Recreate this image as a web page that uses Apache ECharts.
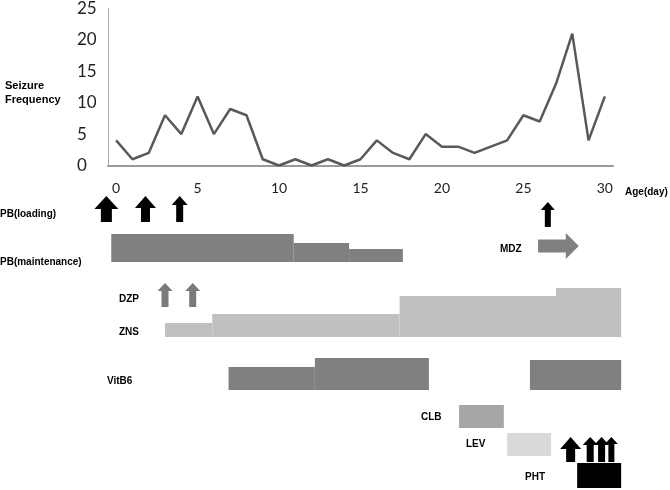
<!DOCTYPE html>
<html>
<head>
<meta charset="utf-8">
<script src="https://cdn.jsdelivr.net/npm/echarts@6/dist/echarts.min.js"></script>
<style>
html,body{margin:0;padding:0;background:#fff;}
#chart{width:670px;height:490px;}
</style>
</head>
<body>
<div id="chart"></div>
<script>
// age in days and seizures counted that day
var ageDays = ['0','1','2','3','4','5','6','7','8','9','10','11','12','13','14','15','16','17','18','19','20','21','22','23','24','25','26','27','28','29','30'];
var seizureCounts = [4,1,2,8,5,11,5,9,8,1,0,1,0,1,0,1,4,2,1,5,3,3,2,3,4,8,7,13,21,4,11];

// treatments: [start day, end day, dose level]
var pbMaintenance = [[-0.3,10.9,28],[10.9,14.3,19],[14.3,17.6,13]];
var zns = [[3.0,5.9,14],[5.9,17.4,23],[17.4,27.0,41],[27.0,31.0,49]];
var vitB6 = [[6.9,12.2,23],[12.2,19.2,32],[25.4,31.0,30]];
var clb = [[21.05,23.8,23]];
var lev = [[24.0,26.7,23]];
var pht = [[28.3,31.0,25]];
var mdzInfusion = [[25.9,28.4]];
// single doses: day given
var pbLoadingDays = [-0.6,1.8,3.9];
var dzpDays = [3.0,4.7];
var mdzBolusDays = [26.5];
var phtLoadingDays = [27.9,29.1,29.8,30.4];

// layout of the treatment tracks (track units, 0 = top of the lower panel)
var TRACK = {pbLoad:52, mdzBolus:57, mdzInf:76, pbMaint:92, dzp:137, zns:167, vitB6:220, clb:258, lev:286, pht:318, phtLoad:292};
var pbLoadHead = [24,21,16];
var phtLoadHead = [21,15,15,13];

var chart = echarts.init(document.getElementById('chart'));

function barItem(base, color){
	return function(params, api){
		var p0 = api.coord([api.value(0), base]);
		var p1 = api.coord([api.value(1), base - api.value(2)]);
		return {
			type:'rect',
			shape:{x:p0[0], y:p1[1], width:p1[0]-p0[0], height:p0[1]-p1[1]},
			style:{fill:color}
		};
	};
}

// upward arrow, tip on top
function upArrow(base, len, heads, color){
	return function(params, api){
		var hw = heads[params.dataIndex] || heads[0];
		var sw = Math.round(hw*0.45);
		var hh = Math.round(hw*0.55);
		var b = api.coord([api.value(0), base]);
		var t = api.coord([api.value(0), base - len]);
		var cx = b[0];
		return {
			type:'polygon',
			shape:{points:[
				[cx, t[1]], [cx+hw/2, t[1]+hh], [cx+sw/2, t[1]+hh], [cx+sw/2, b[1]],
				[cx-sw/2, b[1]], [cx-sw/2, t[1]+hh], [cx-hw/2, t[1]+hh]
			]},
			style:{fill:color}
		};
	};
}

function rightArrow(mid, color){
	return function(params, api){
		var s = api.coord([api.value(0), mid]);
		var e = api.coord([api.value(1), mid]);
		var hl = 13, sh = 6.5, hh = 13;
		return {
			type:'polygon',
			shape:{points:[
				[s[0], s[1]-sh], [e[0]-hl, s[1]-sh], [e[0]-hl, s[1]-hh], [e[0], s[1]],
				[e[0]-hl, s[1]+hh], [e[0]-hl, s[1]+sh], [s[0], s[1]+sh]
			]},
			style:{fill:color}
		};
	};
}

function track(data, fn){
	return {
		type:'custom', xAxisIndex:1, yAxisIndex:1, silent:true,
		encode:{x:0, y:0}, data:data, renderItem:fn
	};
}

function oneCol(arr){
	return arr.map(function(d){ return [d]; });
}

var lbl = 'bold 10px "Liberation Sans"';
function label(txt, x, y){
	return {type:'text', x:x, y:y, style:{text:txt, font:lbl, fill:'#000', verticalAlign:'middle'}};
}

chart.setOption({
	animation:false,
	grid:[
		{left:108, right:57, top:6, height:159.5},
		{left:108, right:57, top:170, height:320}
	],
	xAxis:[{
		type:'category', data:ageDays, gridIndex:0,
		axisLine:{lineStyle:{color:'#9a9a9a', width:2}},
		axisTick:{show:false},
		axisLabel:{interval:4, margin:16, color:'#222', fontFamily:'Lato', fontSize:14}
	},{
		type:'value', gridIndex:1, min:-0.5, max:30.5, show:false
	}],
	yAxis:[{
		type:'value', gridIndex:0, min:0, max:25, interval:5,
		splitLine:{show:false},
		axisLine:{show:true, lineStyle:{color:'#a8a8a8', width:1}},
		axisTick:{show:false},
		axisLabel:{align:'left', margin:31, color:'#222', fontFamily:'Lato', fontSize:17}
	},{
		type:'value', gridIndex:1, min:0, max:320, inverse:true, show:false
	}],
	graphic:[
		{type:'text', x:5, y:86, style:{text:'Seizure', font:'bold 11px "Liberation Sans"', fill:'#000', verticalAlign:'middle'}},
		{type:'text', x:5, y:100, style:{text:'Frequency', font:'bold 11px "Liberation Sans"', fill:'#000', verticalAlign:'middle'}},
		label('Age(day)', 625, 192),
		label('PB(loading)', 0, 214),
		label('PB(maintenance)', 0, 262),
		label('MDZ', 500, 249),
		label('DZP', 119, 299),
		label('ZNS', 119, 332),
		label('VitB6', 107, 381),
		label('CLB', 421, 417),
		label('LEV', 466, 444),
		label('PHT', 525, 477)
	],
	series:[
		{
			type:'line', xAxisIndex:0, yAxisIndex:0, data:seizureCounts,
			symbol:'none', lineStyle:{color:'#595959', width:2.5}
		},
		track(pbMaintenance, barItem(TRACK.pbMaint, '#808080')),
		track(zns, barItem(TRACK.zns, '#c0c0c0')),
		track(vitB6, barItem(TRACK.vitB6, '#808080')),
		track(clb, barItem(TRACK.clb, '#a6a6a6')),
		track(lev, barItem(TRACK.lev, '#d9d9d9')),
		track(pht, barItem(TRACK.pht, '#000000')),
		track(mdzInfusion, rightArrow(TRACK.mdzInf, '#808080')),
		track(oneCol(pbLoadingDays), upArrow(TRACK.pbLoad, 26, pbLoadHead, '#000')),
		track(oneCol(dzpDays), upArrow(TRACK.dzp, 24, [15], '#7a7a7a')),
		track(oneCol(mdzBolusDays), upArrow(TRACK.mdzBolus, 25, [14], '#000')),
		track(oneCol(phtLoadingDays), upArrow(TRACK.phtLoad, 25, phtLoadHead, '#000'))
	]
});
</script>
</body>
</html>
